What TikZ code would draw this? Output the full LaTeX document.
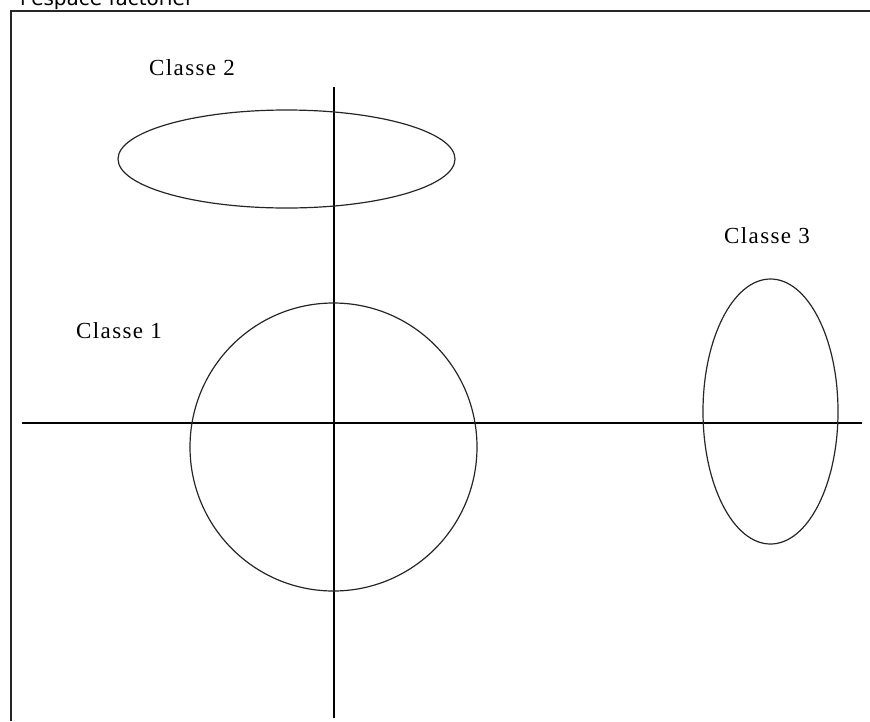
\documentclass[tikz,border=0pt]{standalone}
\usepackage{fontspec}
\setmainfont{Liberation Serif}[LetterSpace=6]
\newfontfamily\topfont{DejaVu Sans}
\begin{document}
\begin{tikzpicture}[x=1pt,y=-1pt,
  axis/.style={line width=1.5pt,black},
  frameline/.style={line width=2pt,black!85},
  cls/.style={line width=1.2pt,black!85},
  lbl/.style={font=\fontsize{23}{26}\selectfont,inner sep=0pt}]
\useasboundingbox (0,0) rectangle (870,721);
% header text, cut by the page top
\node[anchor=base west,inner sep=0pt,font=\topfont\fontsize{20}{24}\selectfont] (title) at (20,5) {l'espace factoriel};
% frame
\coordinate (ftr) at (870,11);
\coordinate (ftl) at (10.5,11);
\coordinate (fbl) at (10.5,721);
\draw[frameline] (ftr) -- (ftl) -- (fbl);
% axes
\coordinate (xl) at (22,423);
\coordinate (xr) at (862,423);
\coordinate (yt) at (334,87);
\coordinate (yb) at (334,718);
\draw[axis] (xl) -- (xr);
\draw[axis] (yt) -- (yb);
% classes
\coordinate (c1) at (333.5,447);
\coordinate (c2) at (286.5,159);
\coordinate (c3) at (770.5,411.5);
\draw[cls] (c1) ellipse [x radius=143.5,y radius=144];
\draw[cls] (c2) ellipse [x radius=168.5,y radius=49];
\draw[cls] (c3) ellipse [x radius=67.5,y radius=132.5];
% labels
\node[lbl] (l2) at (192,68) {Classe 2};
\node[lbl] (l1) at (119,331) {Classe 1};
\node[lbl] (l3) at (767,236) {Classe 3};
\end{tikzpicture}
\end{document}
